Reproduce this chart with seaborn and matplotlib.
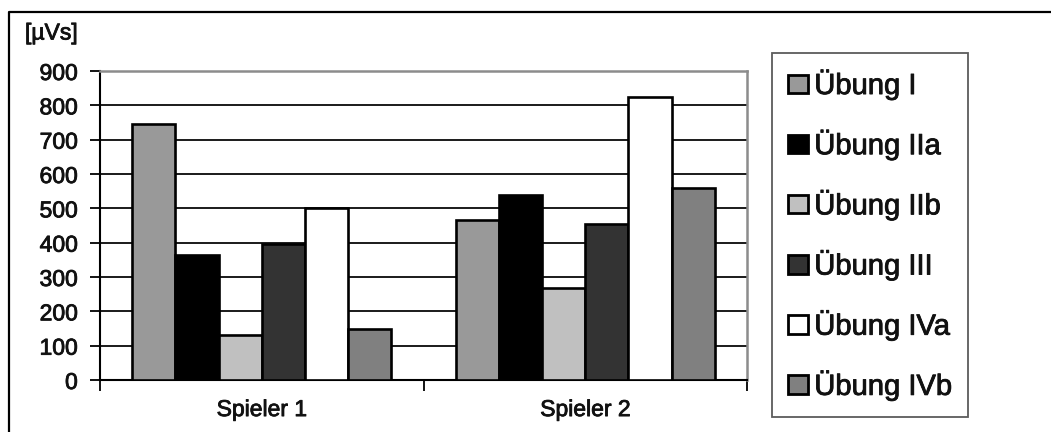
import matplotlib
matplotlib.use("Agg")
import matplotlib.pyplot as plt
import matplotlib.patheffects as pe
import seaborn as sns
import pandas as pd
from matplotlib.lines import Line2D
from matplotlib.ticker import FixedLocator, NullFormatter, FixedFormatter

players = ["Spieler 1", "Spieler 2"]
exercises = ["Übung I", "Übung IIa", "Übung IIb", "Übung III", "Übung IVa", "Übung IVb"]
spieler1 = [745, 365, 130, 395, 502, 150]
spieler2 = [466, 540, 268, 453, 823, 558]
colors = ["#999999", "#000000", "#c0c0c0", "#333333", "#ffffff", "#808080"]
y_ticks = [0, 100, 200, 300, 400, 500, 600, 700, 800, 900]
unit_label = "[µVs]"

rows = []
for p, vals in zip(players, [spieler1, spieler2]):
    for e, v in zip(exercises, vals):
        rows.append({"Spieler": p, "Übung": e, "Wert": v})
df = pd.DataFrame(rows)

sns.set_theme(style="white")
plt.rcParams["font.family"] = ["Liberation Sans", "DejaVu Sans"]

heavy = [pe.withStroke(linewidth=0.6, foreground="#111111")]

fig = plt.figure(figsize=(10.51, 4.32), dpi=100)
ax = fig.add_axes([100 / 1051, 1 - 380 / 432, (747 - 100) / 1051, (380 - 71) / 432])

sns.barplot(data=df, x="Spieler", y="Wert", hue="Übung", hue_order=exercises,
            order=players, palette=colors, saturation=1, width=0.8,
            edgecolor="black", linewidth=1.9, ax=ax, zorder=3)

ax.set_ylim(0, 900)
ax.set_xlim(-0.5, 1.5)
ax.set_yticks(y_ticks)
ax.set_yticklabels([str(t) for t in y_ticks], fontsize=16.5, color="#111111")
ax.yaxis.grid(True, color="#1a1a1a", linewidth=1.4, zorder=0)
ax.set_axisbelow(True)

ax.xaxis.set_major_locator(FixedLocator([-0.5, 0.5, 1.5]))
ax.xaxis.set_major_formatter(NullFormatter())
ax.xaxis.set_minor_locator(FixedLocator([0, 1]))
ax.xaxis.set_minor_formatter(FixedFormatter(players))
ax.tick_params(axis="x", which="major", direction="out", length=8, width=1.3,
               color="black", bottom=True)
ax.tick_params(axis="x", which="minor", length=0, pad=13, labelsize=16.5,
               labelcolor="#111111")
ax.tick_params(axis="y", direction="out", length=7, width=1.3, color="black",
               left=True, pad=9)

ax.set_xlabel("")
ax.set_ylabel("")
for side in ["left", "bottom"]:
    ax.spines[side].set_color("black")
    ax.spines[side].set_linewidth(1.5)
for side in ["top", "right"]:
    ax.spines[side].set_visible(True)
    ax.spines[side].set_color("#8c8c8c")
    ax.spines[side].set_linewidth(1.8)

old_leg = ax.get_legend()
handles, labels = ax.get_legend_handles_labels()
if old_leg is not None:
    old_leg.remove()
leg = fig.legend(handles, labels, loc="upper left",
                 bbox_to_anchor=(772 / 1051, 1 - 53 / 432),
                 frameon=True, fancybox=False, fontsize=21,
                 handlelength=0.68, handleheight=0.6, handletextpad=0.22,
                 labelspacing=1.0, borderpad=0.55, borderaxespad=0)
leg.get_frame().set_edgecolor("#333333")
leg.get_frame().set_linewidth(1.3)
for h in leg.legend_handles:
    h.set_edgecolor("black")
    h.set_linewidth(2.0)
for t in leg.get_texts():
    t.set_color("#111111")
    t.set_path_effects(heavy)

for t in ax.get_yticklabels() + ax.get_xticklabels(minor=True):
    t.set_path_effects(heavy)

fig.text(25 / 1051, 1 - 33 / 432, unit_label, fontsize=16.5, va="center",
         ha="left", color="#111111", path_effects=heavy)

fig.add_artist(Line2D([9 / 1051, 9 / 1051, 1.0], [0.0, 1 - 12 / 432, 1 - 12 / 432],
                      transform=fig.transFigure, color="black", linewidth=1.6))

fig.savefig("out.png", dpi=100)
